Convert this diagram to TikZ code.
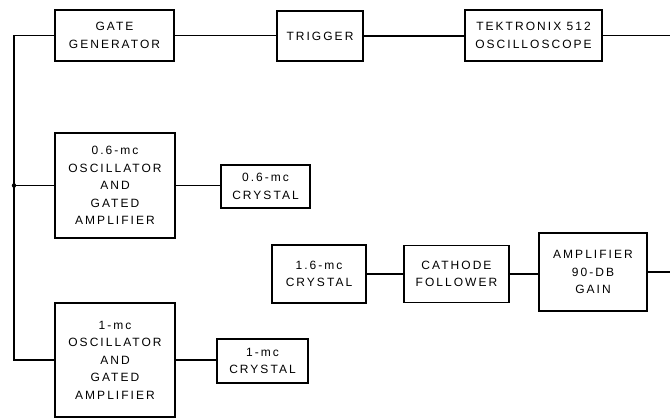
\documentclass[tikz,border=0pt]{standalone}
\usepackage{fontspec}
\usepackage{tikz}
\newfontfamily\blockfont{Liberation Sans}[LetterSpace=17]
\tikzset{
  block/.style={draw, line width=1.1pt, rectangle, align=center, inner sep=0pt,
    font=\blockfont\fontsize{12}{17.5}\selectfont},
  wire/.style={line width=1.1pt}
}

\begin{document}
\begin{tikzpicture}[x=1pt, y=-1pt]
    \useasboundingbox (0,0) rectangle (670,418);
    \node[block, minimum width=119, minimum height=51] (gate) at (114.5,35.5) {GATE\\GENERATOR};
    \node[block, minimum width=86, minimum height=50] (trig) at (320,36) {TRIGGER};
    \node[block, minimum width=137, minimum height=51] (scope) at (533.5,35.5) {TEKTRONIX 512\\OSCILLOSCOPE};
    \node[block, minimum width=120, minimum height=105] (oscA) at (115,185.5) {0.6-mc\\OSCILLATOR\\AND\\GATED\\AMPLIFIER};
    \node[block, minimum width=89, minimum height=43] (xtalA) at (265.5,186.5) {0.6-mc\\CRYSTAL};
    \node[block, minimum width=94, minimum height=58] (xtalC) at (319,274) {1.6-mc\\CRYSTAL};
    \node[block, minimum width=105, minimum height=57] (cath) at (456.5,274) {CATHODE\\FOLLOWER};
    \node[block, minimum width=108, minimum height=78] (amp) at (593,272) {AMPLIFIER\\90-DB\\GAIN};
    \node[block, minimum width=120, minimum height=114] (oscB) at (115,360) {1-mc\\OSCILLATOR\\AND\\GATED\\AMPLIFIER};
    \node[block, minimum width=91, minimum height=44] (xtalB) at (262.5,361) {1-mc\\CRYSTAL};
    \coordinate (bus) at (14,0);
    \coordinate (outA) at (670,0);
    \draw[wire] (gate.west) -- (gate.west -| bus) -- (oscB.west -| bus) -- (oscB.west);
    \draw[wire] (oscA.west -| bus) -- (oscA.west);
    \fill (oscA.west -| bus) circle (2.2);
    \draw[wire] (gate.east) -- (gate.east -| trig.west);
    \draw[wire] (trig.east) -- (trig.east -| scope.west);
    \draw[wire] (scope.east) -- (scope.east -| outA);
    \draw[wire] (oscA.east) -- (oscA.east -| xtalA.west);
    \draw[wire] (oscB.east) -- (oscB.east -| xtalB.west);
    \draw[wire] (xtalC.east) -- (xtalC.east -| cath.west);
    \draw[wire] (cath.east) -- (cath.east -| amp.west);
    \draw[wire] (amp.east) -- (amp.east -| outA);
\end{tikzpicture}
\end{document}
